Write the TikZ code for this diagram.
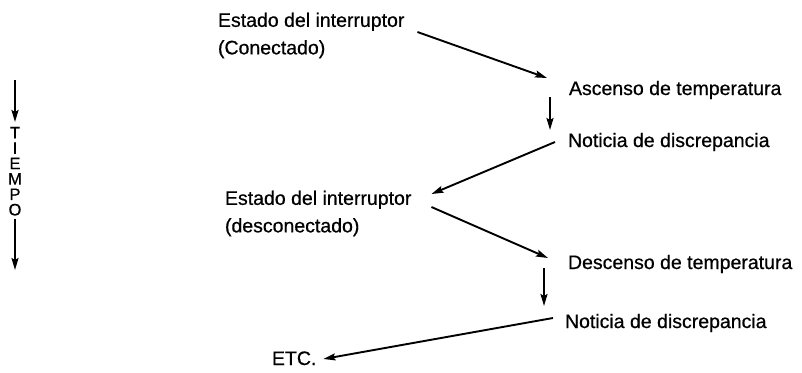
\documentclass[tikz,border=0pt]{standalone}
\usepackage{fontspec}
\setmainfont[FakeBold=0.6]{Liberation Sans}
\usetikzlibrary{arrows.meta,calc}
\begin{document}
\begin{tikzpicture}[x=1pt,y=-1pt,
  lbl/.style={inner sep=0pt,outer sep=0pt,font=\fontsize{19.5}{27.5}\selectfont,text=black},
  conn/.style={line width=1.9pt,-{Stealth[length=12pt,width=7pt,inset=2pt]}},
  tlbl/.style={inner sep=0pt,outer sep=0pt,align=center,font=\fontsize{16.5}{15.4}\selectfont}]
\useasboundingbox[fill=white] (0,0) rectangle (802,372);
% labels
\node[lbl,anchor=north west,align=left] (e1) at (218,12.7) {Estado del interruptor\\(Conectado)};
\node[lbl,anchor=base west] (asc) at (569,95) {Ascenso de temperatura};
\node[lbl,anchor=base west] (not1) at (568,147) {Noticia de discrepancia};
\node[lbl,anchor=north west,align=left] (e2) at (225,190.7) {Estado del interruptor\\(desconectado)};
\node[lbl,anchor=base west] (desc) at (568,269) {Descenso de temperatura};
\node[lbl,anchor=base west] (not2) at (565,328) {Noticia de discrepancia};
\node[lbl,anchor=base west] (etc) at (272,365) {ETC.};
% time axis
\node[tlbl,anchor=north] (tiempo) at (15,127) {T\\I\\E\\M\\P\\O};
\coordinate (ttop) at (15,80);
\coordinate (tbot) at (15,270);
\draw[conn] (ttop) -- ($(tiempo.north)+(0,-5)$);
\draw[conn] ($(tiempo.south)+(0,3)$) -- (tbot);
% connectors
\draw[conn] ($(e1.north east)+(13,19.3)$) -- ($(asc.base west)+(-22,-17)$);
\draw[conn] ($(asc.base west)+(-19,2)$) -- ($(not1.base west)+(-18,-17)$);
\draw[conn] ($(not1.base west)+(-13,-5)$) -- ($(e2.north east)+(20,3.3)$);
\draw[conn] ($(e2.north east)+(20,16.3)$) -- ($(desc.base west)+(-20,-11)$);
\draw[conn] ($(desc.base west)+(-24,-1)$) -- ($(not2.base west)+(-21,-22)$);
\draw[conn] ($(not2.base west)+(-12,-10)$) -- ($(etc.base east)+(7,-6)$);
\end{tikzpicture}
\end{document}
